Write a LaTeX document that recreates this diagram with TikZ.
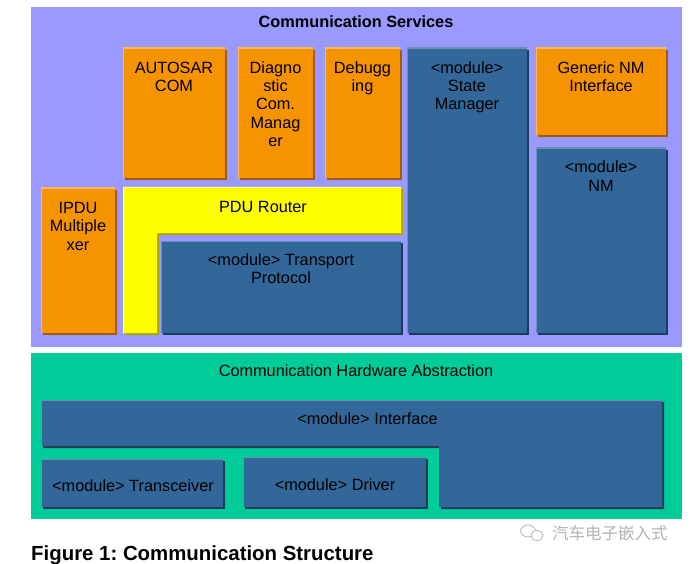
\documentclass[tikz,border=0pt]{standalone}
\usepackage{fontspec}
\setmainfont{Liberation Sans}
\newfontfamily\cjkfont{Noto Sans CJK SC}
\usetikzlibrary{shadows}
\frenchspacing
\definecolor{bgpurple}{HTML}{9999FF}
\definecolor{bggreen}{HTML}{00CC99}
\definecolor{orfill}{HTML}{F59300}
\definecolor{orshadow}{HTML}{A35A0A}
\definecolor{orlight}{HTML}{FFB862}
\definecolor{blfill}{HTML}{336699}
\definecolor{blshadow}{HTML}{1E3A5A}
\definecolor{bllight}{HTML}{6A8FB5}
\definecolor{yefill}{HTML}{FFFF00}
\definecolor{yeshadow}{HTML}{A8A800}
\definecolor{yelight}{HTML}{FFFF99}
\definecolor{wmgray}{HTML}{B4B4B4}
\tikzset{
  lbl/.style={inner sep=0pt, align=center, anchor=north, text=black,
    font=\fontsize{16.3}{18.4}\selectfont},
  titlelbl/.style={inner sep=0pt, anchor=base, text=black,
    font=\fontsize{16.3}{18.4}\selectfont},
  blockshape/.style n args={3}{fill=#1,
    general shadow={fill=#2, shadow xshift=2.2pt, shadow yshift=-2.2pt},
    path picture={\draw[#3, line width=2.4pt]
      (path picture bounding box.south west) -- (path picture bounding box.north west)
      -- (path picture bounding box.north east);}},
  obox/.style={blockshape={orfill}{orshadow}{orlight}},
  bbox/.style={blockshape={blfill}{blshadow}{bllight}},
  ybox/.style={blockshape={yefill}{yeshadow}{yelight}},
}
\newcommand{\fs}{\rule{0pt}{12pt}}
\begin{document}
\begin{tikzpicture}[x=1pt, y=-1pt]
\useasboundingbox[fill=white] (0,0) rectangle (693,564);
% backgrounds
\fill[bgpurple] (31,7) rectangle (682,347);
\fill[bggreen] (31,353) rectangle (682,519);
\node[titlelbl, font=\fontsize{16.3}{18.4}\selectfont\bfseries] (cs) at (356,28) {Communication Services};
\node[titlelbl] (cha) at (356,376) {Communication Hardware Abstraction};

% upper boxes
\path[obox] (123,48) rectangle (225,178);
\node[lbl] (autosar) at (174,61) {\fs AUTOSAR\\COM};
\path[obox] (238,48) rectangle (313,178);
\node[lbl] (diag) at (275.5,61) {\fs Diagno\\stic\\Com.\\Manag\\er};
\path[obox] (325,48) rectangle (400,178);
\node[lbl] (debug) at (362.5,61) {\fs Debugg\\ing};
\path[bbox] (407,48) rectangle (527,333);
\node[lbl] (state) at (467,61) {\fs <module>\\State\\Manager};
\path[obox] (536,48) rectangle (666,135);
\node[lbl] (gennm) at (601,61) {\fs Generic NM\\Interface};
\path[bbox] (536,148) rectangle (666,333);
\node[lbl] (nm) at (601,160.5) {\fs <module>\\NM};
\path[obox] (41,188) rectangle (115,333);
\node[lbl] (ipdu) at (78,201) {\fs IPDU\\Multiple\\xer};
\path[ybox] (123,187) -- (401,187) -- (401,233) -- (157,233) -- (157,333) -- (123,333) -- cycle;
\node[lbl] (pdur) at (263,200) {\fs PDU Router};
\path[bbox] (161,241) rectangle (401,333);
\node[lbl] (tp) at (281,253) {\fs <module> Transport\\Protocol};

% lower boxes
\path[bbox] (41,400) -- (662,400) -- (662,507) -- (439,507) -- (439,446) -- (41,446) -- cycle;
\node[lbl] (iface) at (367.5,412) {\fs <module> Interface};
\path[bbox] (41,459) rectangle (223,507);
\node[lbl] (trx) at (133,479) {\fs <module> Transceiver};
\path[bbox] (243,457) rectangle (426,507);
\node[lbl] (drv) at (335,478.5) {\fs <module> Driver};

% caption
\node[inner sep=0pt, anchor=base west, font=\fontsize{20.4}{24}\selectfont\bfseries] (cap) at (31,560) {Figure 1: Communication Structure};

% watermark
\draw[wmgray, line width=0.8pt] (528,531) ellipse (7.5pt and 6pt);
\draw[wmgray, line width=0.8pt, fill=white] (537,535.5) ellipse (6pt and 5pt);
\node[inner sep=0pt, anchor=west, text=wmgray, font=\cjkfont\fontsize{16.5}{18}\selectfont] (wm) at (552,533) {汽车电子嵌入式};
\end{tikzpicture}
\end{document}
